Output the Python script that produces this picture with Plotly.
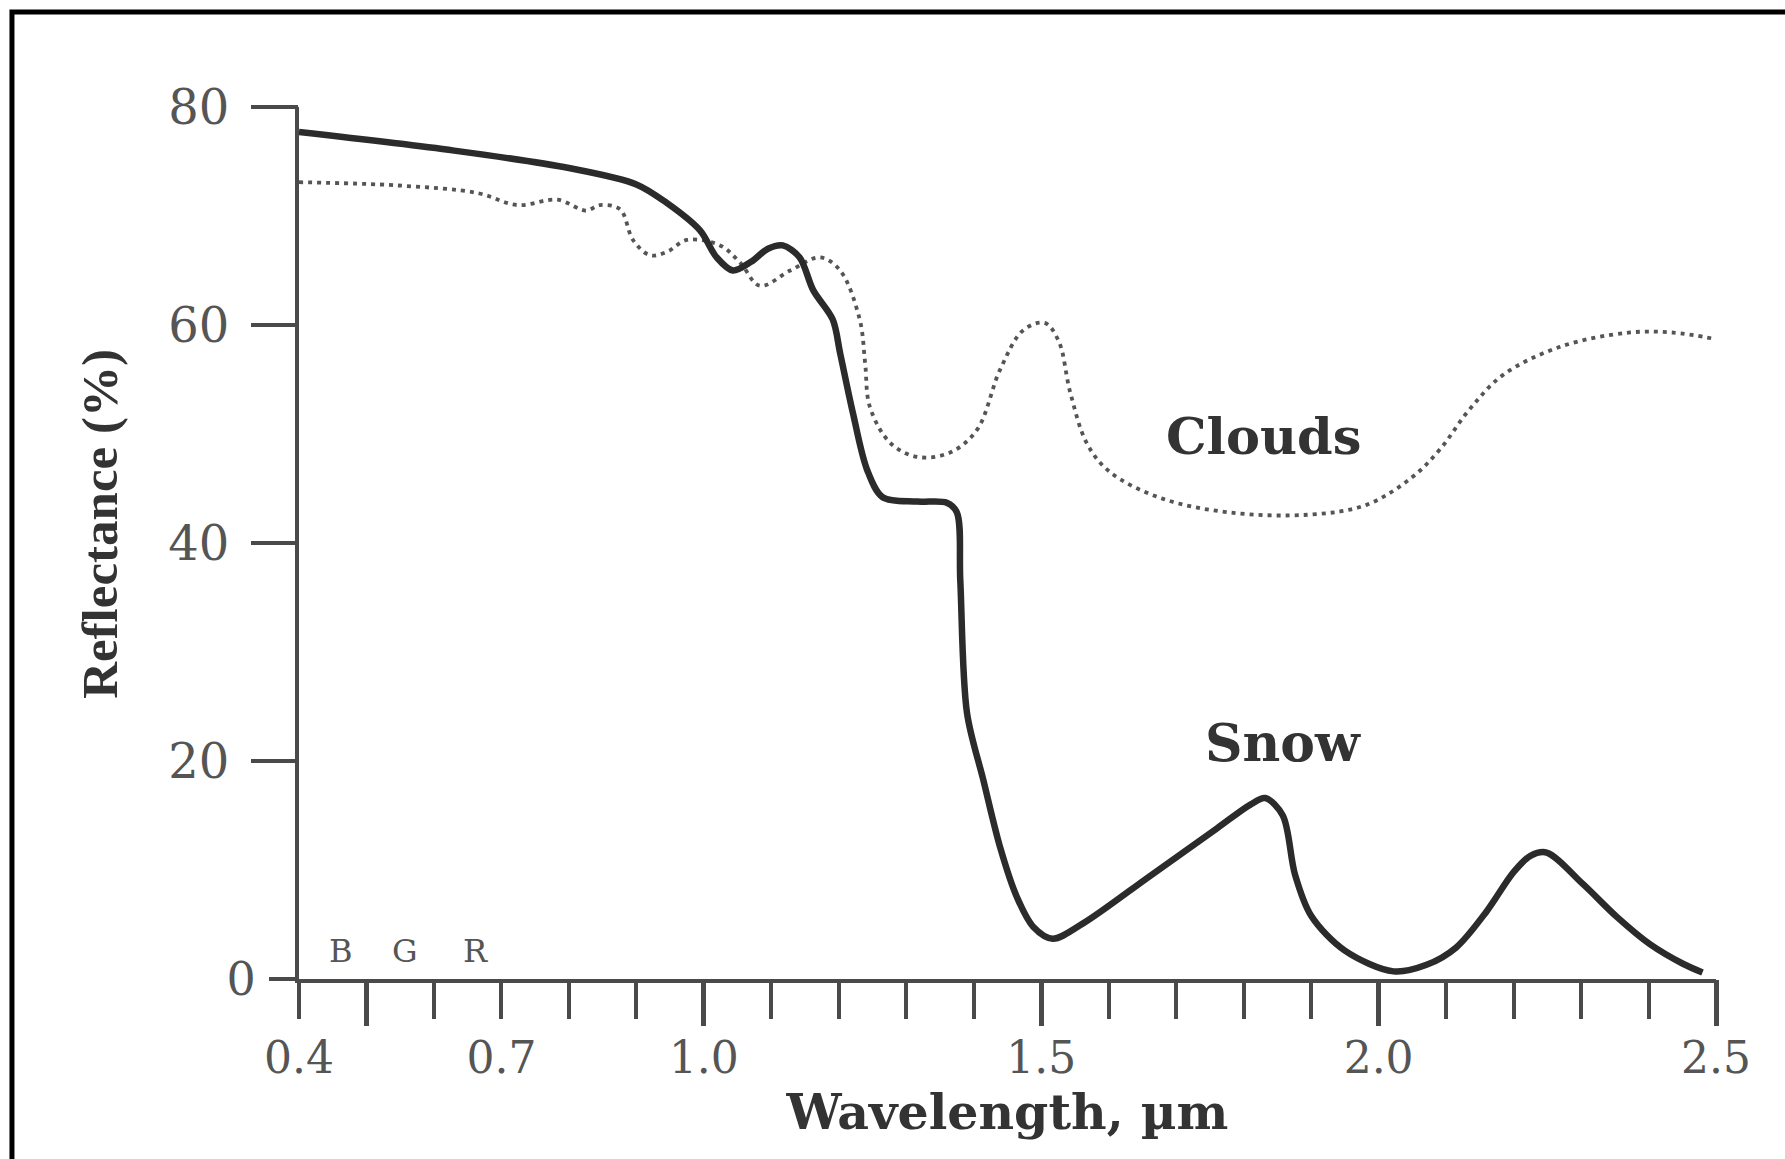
import plotly.graph_objects as go

# ---- data ----
snow_wl = [0.40, 0.63, 0.80, 0.90, 0.945, 0.994, 1.019, 1.043, 1.07, 1.095, 1.117, 1.142, 1.162,
           1.191, 1.202, 1.221, 1.242, 1.265, 1.316, 1.36, 1.375, 1.38, 1.39, 1.414, 1.439,
           1.464, 1.488, 1.517, 1.562, 1.66, 1.76, 1.81, 1.832, 1.858, 1.876,
           1.90, 1.95, 2.022, 2.071, 2.115, 2.16, 2.20, 2.225, 2.249, 2.303,
           2.353, 2.402, 2.451, 2.48]
snow_refl = [77.7, 76.0, 74.4, 72.9, 71.2, 68.7, 66.2, 65.0, 65.8, 67.0, 67.3, 66.2, 63.2,
             60.5, 57.4, 51.9, 46.7, 44.2, 43.8, 43.7, 42.8, 36.6, 24.4, 18.3, 12.1,
             7.5, 4.8, 3.7, 5.1, 9.4, 13.8, 16.0, 16.6, 15.0, 9.6,
             5.8, 2.6, 0.7, 1.3, 2.9, 6.2, 9.8, 11.3, 11.6, 8.7,
             5.7, 3.2, 1.4, 0.6]

cloud_wl = [0.40, 0.547, 0.665, 0.724, 0.783, 0.825, 0.846, 0.876, 0.895, 0.92, 0.945, 0.975,
            1.024, 1.054, 1.083, 1.128, 1.172, 1.202, 1.231, 1.239, 1.246, 1.276, 1.316, 1.365,
            1.405, 1.439, 1.473, 1.505, 1.526, 1.543, 1.568, 1.602, 1.678, 1.779, 1.897, 1.982,
            2.049, 2.091, 2.134, 2.184, 2.269, 2.37, 2.437, 2.50]
cloud_refl = [73.1, 72.8, 72.1, 71.0, 71.5, 70.5, 71.0, 70.6, 67.8, 66.4, 66.7, 67.8,
              67.3, 65.7, 63.6, 65.0, 66.2, 65.0, 60.5, 56.5, 52.5, 49.2, 47.9, 48.3,
              50.4, 55.9, 59.5, 60.2, 58.5, 53.8, 49.1, 46.5, 44.1, 42.8, 42.6, 43.5,
              46.0, 48.6, 52.2, 55.4, 58.0, 59.3, 59.3, 58.7]

x_label_vals = [0.4, 0.7, 1.0, 1.5, 2.0, 2.5]
x_label_text = ["0.4", "0.7", "1.0", "1.5", "2.0", "2.5"]
x_long_ticks = [0.5, 1.0, 1.5, 2.0, 2.5]
y_label_vals = [20, 40, 60, 80]
band_labels = ["B", "G", "R"]
band_pos = [0.462, 0.557, 0.662]

SERIF = "DejaVu Serif"
TIMES = "Liberation Serif"
AX = "#4a4a4a"
LBL = "#555555"

fig = go.Figure()
fig.add_trace(go.Scatter(x=cloud_wl, y=cloud_refl, mode="lines", line_shape="spline",
                         line=dict(color="#555555", width=3.8, dash="4px,5px"),
                         showlegend=False, hoverinfo="skip"))
fig.add_trace(go.Scatter(x=snow_wl, y=snow_refl, mode="lines", line_shape="spline",
                         line=dict(color="#2b2b2b", width=6.5, smoothing=0.9),
                         showlegend=False, hoverinfo="skip"))
fig.add_trace(go.Scatter(x=[], y=[], xaxis="x2", yaxis="y2", showlegend=False))

dom_x = [299 / 1785, 1716 / 1785]
dom_y = [180 / 1159, 1052 / 1159]

fig.update_layout(
    template="none",
    width=1785, height=1159,
    margin=dict(l=0, r=0, t=0, b=0, autoexpand=False),
    paper_bgcolor="white", plot_bgcolor="white",
    xaxis=dict(domain=dom_x, range=[0.4, 2.5], anchor="y", automargin=False,
               showline=True, linecolor=AX, linewidth=4, showgrid=False, zeroline=False,
               ticks="outside", tickvals=x_label_vals, ticktext=x_label_text,
               ticklen=36, tickwidth=4, tickcolor=AX,
               minor=dict(ticks="outside", dtick=0.1, tick0=0.4, ticklen=36, tickwidth=4,
                          tickcolor=AX, showgrid=False),
               tickfont=dict(family=SERIF, size=44, color=LBL), ticklabelstandoff=1,
               title=dict(text="<b>Wavelength, µm</b>", standoff=12,
                          font=dict(family=SERIF, size=49, color="#333333"))),
    xaxis2=dict(domain=dom_x, range=[0.4, 2.5], overlaying="x", anchor="y", side="bottom",
                automargin=False, showline=False, showgrid=False, zeroline=False,
                ticks="outside", tickvals=x_long_ticks, ticklen=46, tickwidth=5,
                tickcolor=AX, showticklabels=False),
    yaxis=dict(domain=dom_y, range=[0, 80], anchor="x", automargin=False,
               showline=True, linecolor=AX, linewidth=4, showgrid=False, zeroline=False,
               ticks="outside", tickvals=[0], ticktext=["0"], ticklen=26, tickwidth=4,
               tickcolor=AX, tickfont=dict(family=SERIF, size=46, color=LBL),
               ticklabelstandoff=4),
    yaxis2=dict(domain=dom_y, range=[0, 80], overlaying="y", anchor="x", side="left",
                automargin=False, showline=False, showgrid=False, zeroline=False,
                ticks="outside", tickvals=y_label_vals, ticklen=47, tickwidth=4,
                tickcolor=AX, tickfont=dict(family=SERIF, size=48, color=LBL),
                ticklabelstandoff=12),
    shapes=[dict(type="rect", xref="paper", yref="paper", x0=0.0067, x1=1.02, y0=-0.02,
                 y1=0.9896, line=dict(color="black", width=5))],
)

# y-axis title (placed as rotated text to match the reference position)
fig.add_annotation(xref="paper", yref="paper", x=0.056, y=0.548, xanchor="center",
                   yanchor="middle", textangle=-90,
                   text="<b>Reflectance (%)</b>", showarrow=False,
                   font=dict(family=TIMES, size=51, color="#333333"))
fig.add_annotation(x=1.83, y=49.8, text="<b>Clouds</b>", showarrow=False,
                   font=dict(family=SERIF, size=51, color="#333333"))
fig.add_annotation(x=1.858, y=21.7, text="<b>Snow</b>", showarrow=False,
                   font=dict(family=SERIF, size=52, color="#333333"))
for lab, xp in zip(band_labels, band_pos):
    fig.add_annotation(x=xp, y=2.6, text=lab, showarrow=False,
                       font=dict(family=SERIF, size=32, color=LBL))

fig.write_html("out.html")
